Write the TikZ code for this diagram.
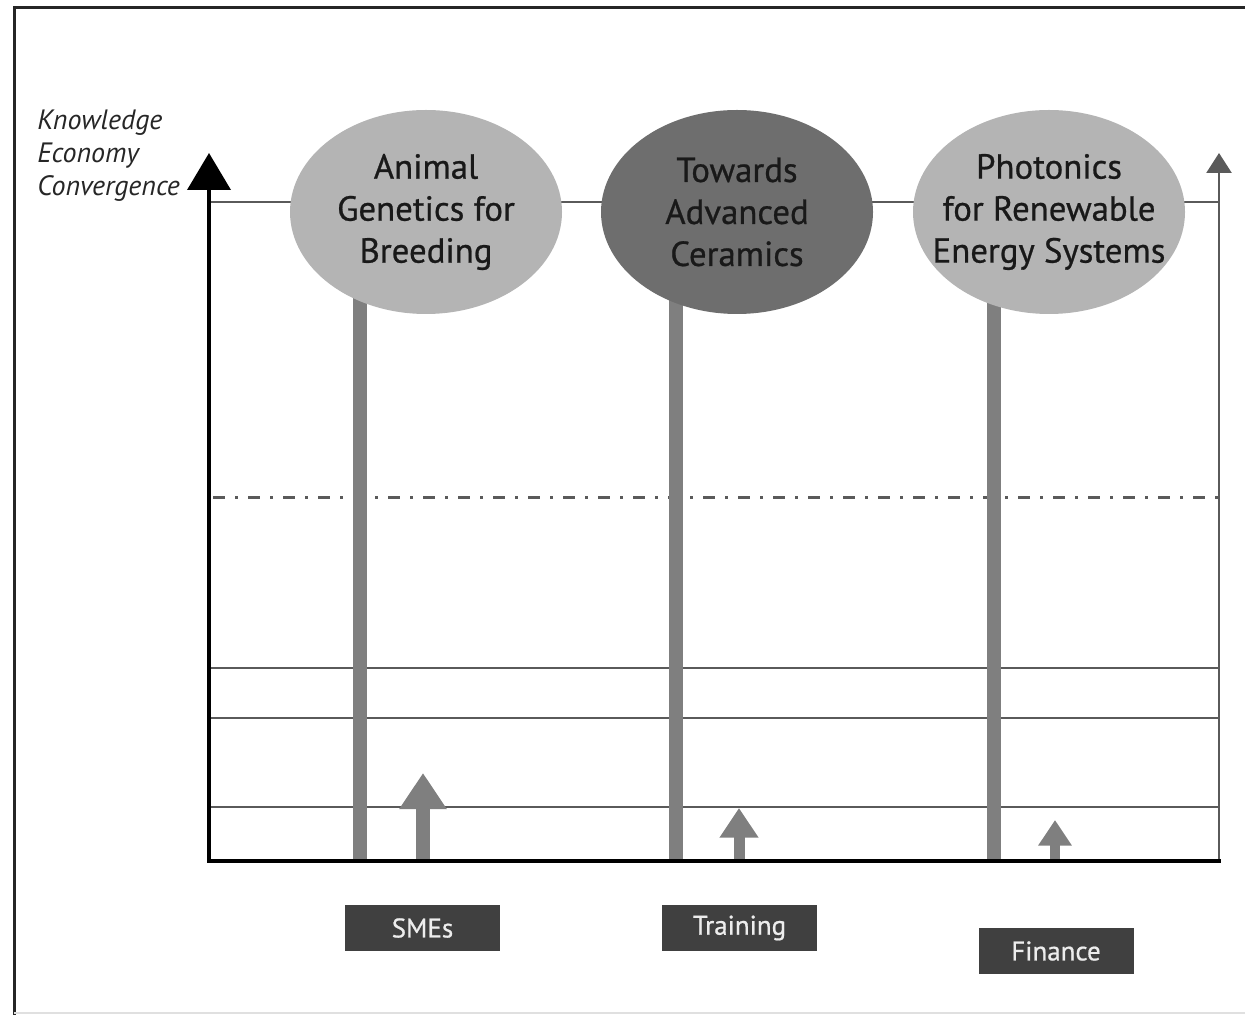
\documentclass[tikz,border=0pt]{standalone}
\usepackage{fontspec}
\setmainfont{PT Sans}
\newfontfamily\heavysans{PT Sans}[FakeBold=0.7]
\usetikzlibrary{arrows.meta,shapes.geometric}
\definecolor{bubblelight}{HTML}{B4B4B4}
\definecolor{bubbledark}{HTML}{6E6E6E}
\definecolor{barcol}{HTML}{7F7F7F}
\definecolor{gridcol}{HTML}{5A5A5A}
\definecolor{tagcol}{HTML}{404040}
\begin{document}
\begin{tikzpicture}[x=0.5pt,y=-0.5pt,
  bubble/.style={ellipse,minimum width=136pt,minimum height=102pt,inner sep=0pt},
  bubbletext/.style={align=center,inner sep=0pt,
    font=\heavysans\fontsize{17.4}{21}\selectfont,text=black!90},
  tagbox/.style={rectangle,fill=tagcol,text=black!7,minimum width=77.5pt,minimum height=23pt,
    inner sep=0pt,font=\heavysans\fontsize{13.5}{15}\selectfont},
  gridline/.style={draw=gridcol,line width=1.1pt},
  pillar/.style={draw=barcol,line width=7pt},
  growth/.style={draw=barcol,fill=barcol,-{Triangle[length=#1*0.8pt,width=#1pt]}},
  axis/.style={draw=black,line width=2pt}]
\useasboundingbox (0,0) rectangle (1245,1015);
% outer frame
\draw[black!85,line width=1.5pt] (14,1015) -- (14,8) -- (1245,8);
\draw[black!12,line width=0.8pt] (14,1013) -- (1245,1013);

% named points
\coordinate (o) at (209,861);
\coordinate (ytop) at (209,153);
\coordinate (xend) at (1221,861);
\coordinate (rbase) at (1219,861);
\coordinate (rtop) at (1219,153);

% horizontal levels
\draw[gridline] (209,202) -- (1219,202);
\draw[draw=gridcol,line width=1.5pt,dash pattern=on 6pt off 5pt on 1.5pt off 5pt] (213,497) -- (1219,497);
\draw[gridline] (209,668) -- (1219,668);
\draw[gridline] (209,718) -- (1219,718);
\draw[gridline] (209,807) -- (1219,807);

% pillars under the bubbles
\draw[pillar] (360,250) -- (360,861);
\draw[pillar] (676,250) -- (676,861);
\draw[pillar] (994,250) -- (994,861);

% bubbles
\node[bubble,fill=bubblelight] (gen) at (426,212) {};
\node[bubble,fill=bubbledark] (cer) at (737,212) {};
\node[bubble,fill=bubblelight] (pho) at (1049,212) {};
\node[bubbletext] (gent) at (gen.center) {Animal\\Genetics for\\Breeding};
\node[bubbletext] (cert) at (cer.center) {Towards\\Advanced\\Ceramics};
\node[bubbletext] (phot) at (pho.center) {Photonics\\for Renewable\\Energy Systems};

% growth arrows
\coordinate (a1b) at (423,861); \coordinate (a1t) at (423,773);
\coordinate (a2b) at (739,861); \coordinate (a2t) at (739,808);
\coordinate (a3b) at (1055,861); \coordinate (a3t) at (1055,820);
\draw[growth=22.5,line width=7pt] (a1b) -- (a1t);
\draw[growth=18.5,line width=5.5pt] (a2b) -- (a2t);
\draw[growth=16,line width=5pt] (a3b) -- (a3t);

% right-hand arrow
\draw[draw=gridcol,line width=1.3pt,-{Triangle[length=10pt,width=12.5pt]}] (rbase) -- (rtop);

% axes
\draw[axis,-{Triangle[length=18.5pt,width=21.5pt]}] (o) -- (ytop);
\draw[axis] (207,861) -- (xend);

% axis label
\node[anchor=north west,align=left,inner sep=0pt,
  font=\fontsize{14}{16.5}\selectfont\itshape,text=black!85] (lab) at (37,110)
  {Knowledge\\Economy\\Convergence};

% bottom tags
\node[tagbox] (sme) at (422.5,928) {SMEs};
\node[tagbox] (trn) at (739.5,928) {Training};
\node[tagbox] (fin) at (1056,951) {Finance};
\end{tikzpicture}
\end{document}
